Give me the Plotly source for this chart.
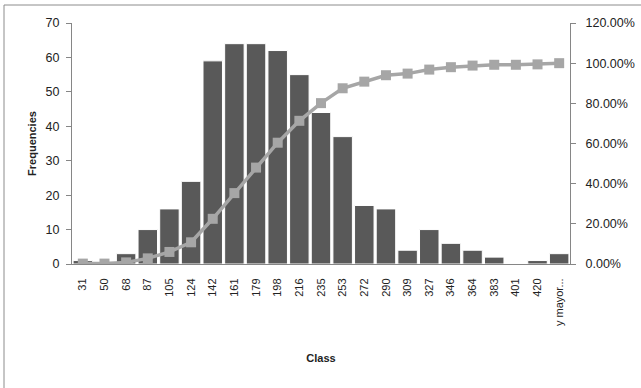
import plotly.graph_objects as go

# Histogram classes and counts
classes = ["31", "50", "68", "87", "105", "124", "142", "161", "179", "198", "216",
           "235", "253", "272", "290", "309", "327", "346", "364", "383", "401",
           "420", "y mayor..."]
frequencies = [1, 0, 3, 10, 16, 24, 59, 64, 64, 62, 55, 44, 37, 17, 16, 4, 10, 6, 4, 2, 0, 1, 3]
cumulative_pct = [0.2, 0.2, 0.8, 2.8, 6.0, 10.8, 22.5, 35.3, 48.0, 60.4, 71.3, 80.1,
                  87.5, 90.8, 94.0, 94.8, 96.8, 98.0, 98.8, 99.2, 99.2, 99.4, 100.0]
left_ticks = [0, 10, 20, 30, 40, 50, 60, 70]
right_ticks = [0, 20, 40, 60, 80, 100, 120]

font_family = "Liberation Sans, Arial, sans-serif"
axis_grey = "#868686"

fig = go.Figure()
fig.add_trace(go.Bar(
    x=classes, y=frequencies, name="Frequency",
    marker=dict(color="#595959", line=dict(color="#ffffff", width=1)),
    yaxis="y",
))
fig.add_trace(go.Scatter(
    x=classes, y=[v / 100 for v in cumulative_pct], name="Cumulative %",
    mode="lines+markers",
    line=dict(color="#A6A6A6", width=3.5),
    marker=dict(symbol="square", size=10, color="#A6A6A6"),
    yaxis="y2",
))

fig.update_layout(
    width=641, height=388,
    margin=dict(l=72, r=71, t=23, b=124),
    paper_bgcolor="white", plot_bgcolor="white",
    showlegend=False,
    bargap=0.1,
    font=dict(family=font_family, size=11, color="#222222"),
    xaxis=dict(
        type="category", range=[-0.5, len(classes) - 0.5],
        tickangle=-90, showgrid=False, automargin=False,
        showline=True, linecolor=axis_grey, linewidth=1,
        ticks="", tickfont=dict(size=11), ticklabelstandoff=9,
        title=dict(text="<b>Class</b>", font=dict(size=11), standoff=29),
    ),
    yaxis=dict(
        range=[0, 70], tickvals=left_ticks, showgrid=False, automargin=False,
        showline=True, linecolor=axis_grey, linewidth=1,
        ticks="outside", ticklen=5, tickcolor=axis_grey,
        tickfont=dict(size=12.5), ticklabelstandoff=4, zeroline=False,
        title=dict(text="<b>Frequencies</b>", font=dict(size=11), standoff=6),
    ),
    yaxis2=dict(
        overlaying="y", side="right", range=[0, 1.2], automargin=False,
        tickvals=[t / 100 for t in right_ticks], tickformat=".2%",
        showgrid=False, showline=True, linecolor=axis_grey, linewidth=1,
        ticks="outside", ticklen=5, tickcolor=axis_grey,
        tickfont=dict(size=12.5), ticklabelstandoff=7, zeroline=False,
    ),
    shapes=[dict(
        type="rect", xref="paper", yref="paper",
        x0=(4 - 72) / 498, x1=(646 - 72) / 498,
        y0=(264 - 394) / 241, y1=(264 - 5) / 241,
        line=dict(color="#8c8c8c", width=1), layer="below",
    )],
)

fig.write_html("out.html")
